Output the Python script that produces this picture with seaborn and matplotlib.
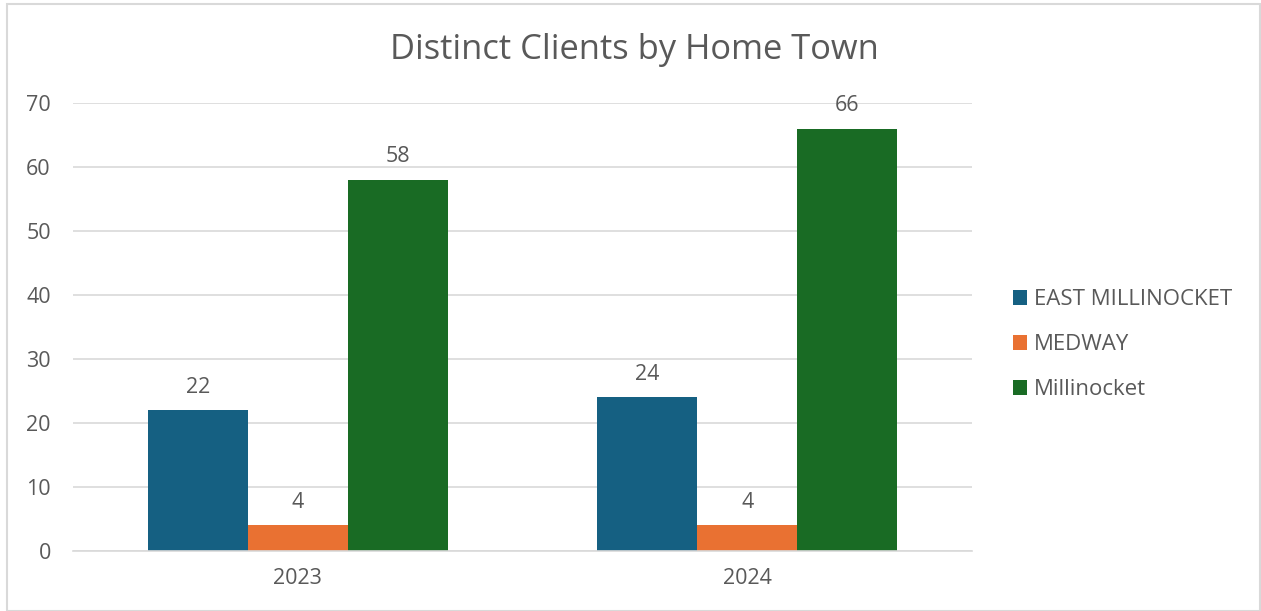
import matplotlib
matplotlib.use("Agg")
import matplotlib.pyplot as plt
import seaborn as sns
import pandas as pd
from matplotlib.patches import Rectangle

years = ["2023", "2024"]
towns = ["EAST MILLINOCKET", "MEDWAY", "Millinocket"]
east_millinocket = [22, 24]
medway = [4, 4]
millinocket = [58, 66]
yticks = [0, 10, 20, 30, 40, 50, 60, 70]

colors = ["#156082", "#E97132", "#196B24"]
text_color = "#595959"
grid_color = "#D9D9D9"

rows = []
for town, vals in zip(towns, [east_millinocket, medway, millinocket]):
    for y, v in zip(years, vals):
        rows.append({"Year": y, "Town": town, "Clients": v})
df = pd.DataFrame(rows)

sns.set_theme(style="white")
plt.rcParams["font.family"] = ["Open Sans", "DejaVu Sans"]

fig = plt.figure(figsize=(12.61, 6.11), dpi=100)
ax = fig.add_axes([0.0579, 0.0982, 0.7129, 0.7332])

sns.barplot(data=df, x="Year", y="Clients", hue="Town", order=years,
            hue_order=towns, palette=colors, width=0.667, saturation=1,
            ax=ax, legend=True, errorbar=None, linewidth=0)

ax.set_ylim(0, 70)
ax.set_xlim(-0.5, 1.5)
ax.set_yticks(yticks)
ax.yaxis.grid(True, color=grid_color, linewidth=1.2)
ax.set_axisbelow(True)
for s in ["top", "right", "left"]:
    ax.spines[s].set_visible(False)
ax.spines["bottom"].set_color(grid_color)
ax.spines["bottom"].set_linewidth(1.2)
ax.tick_params(axis="y", length=0, labelsize=15.5, colors=text_color, pad=16)
ax.tick_params(axis="x", length=0, labelsize=15.5, colors=text_color, pad=12)
ax.set_xlabel("")
ax.set_ylabel("")

for cont in ax.containers:
    ax.bar_label(cont, padding=9, fontsize=15.5, color=text_color)

fig.text(0.503, 1 - 50 / 611, "Distinct Clients by Home Town", fontsize=24.8,
         color=text_color, ha="center", va="center")

leg = ax.legend(loc="center left", bbox_to_anchor=(1.0456, 0.46), frameon=False,
                fontsize=16, labelspacing=1.08, handlelength=0.64, handleheight=0.64,
                handletextpad=0.3, borderpad=0, borderaxespad=0)
for t in leg.get_texts():
    t.set_color(text_color)

fig.patches.append(Rectangle((7 / 1261, 0), 1 - 7 / 1261 - 0.001, 1 - 4 / 611,
                             transform=fig.transFigure, fill=False,
                             edgecolor="#D9D9D9", linewidth=1.5))

fig.savefig("out.png", dpi=100)
